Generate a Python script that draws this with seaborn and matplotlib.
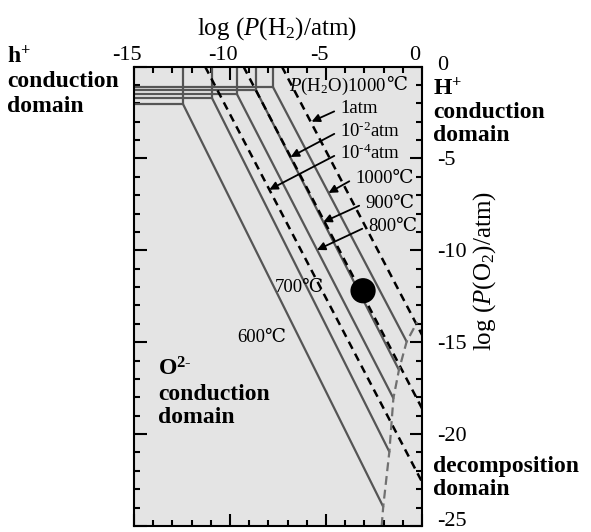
import matplotlib
matplotlib.use("Agg")
import matplotlib.pyplot as plt
from matplotlib.ticker import MultipleLocator
from matplotlib.transforms import ScaledTranslation
import seaborn as sns

# Fronteras por temperatura: punto triple y final en la zona de descomposicion
temps = ["600℃", "700℃", "800℃", "900℃", "1000℃"]
triple_x = [-12.45, -10.94, -9.64, -8.65, -7.76]
triple_y = [-2.04, -1.71, -1.50, -1.28, -1.12]
end_x = [-2.02, -1.70, -1.49, -1.20, -0.80]
end_y = [-23.95, -20.96, -18.05, -16.51, -14.97]

# Lineas de P(H2O) a 1000℃ (corte con el borde superior y con el derecho)
ph2o_labels = ["1atm", r"10$^{\text{-}2}$atm", r"10$^{\text{-}4}$atm"]
ph2o_top_x = [-7.3, -9.3, -11.3]
ph2o_right_y = [-14.6, -18.6, -22.6]

# Frontera de descomposicion
decomp_x = [-2.10, -2.02, -1.70, -1.49, -1.20, -0.80, -0.25]
decomp_y = [-25.0, -23.95, -20.96, -18.05, -16.51, -14.97, -13.9]

# Punto de medida
point_x = [-3.07]
point_y = [-12.2]

sns.set_theme(style="ticks")
plt.rcParams["font.family"] = ["Liberation Serif", "DejaVu Serif"]
plt.rcParams["mathtext.fontset"] = "custom"
plt.rcParams["mathtext.rm"] = "Liberation Serif"
plt.rcParams["mathtext.it"] = "Liberation Serif:italic"
plt.rcParams["mathtext.bf"] = "Liberation Serif:bold"
plt.rcParams["axes.unicode_minus"] = False
plt.rcParams["text.color"] = "black"
plt.rcParams["axes.labelcolor"] = "black"

W, H = 591, 532
fig = plt.figure(figsize=(W / 100, H / 100), dpi=100)
ax = fig.add_axes([134 / W, 1 - 526 / H, (422 - 134) / W, (526 - 66.5) / H])
ax.set_facecolor("#e4e4e4")

solid = dict(color="#555555", lw=1.6, estimator=None, sort=False, ax=ax)
for i in range(len(temps)):
    tx, ty = triple_x[i], triple_y[i]
    sns.lineplot(x=[-15, tx], y=[ty, ty], **solid)
    sns.lineplot(x=[tx, tx], y=[ty, 0], **solid)
    sns.lineplot(x=[tx, end_x[i]], y=[ty, end_y[i]], **solid)

for i in range(len(ph2o_labels)):
    sns.lineplot(x=[ph2o_top_x[i], 0], y=[0, ph2o_right_y[i]], color="black",
                 lw=1.8, estimator=None, sort=False, ax=ax)
    ax.lines[-1].set_dashes((3.2, 2.2))

sns.lineplot(x=decomp_x, y=decomp_y, color="#707070", lw=1.6,
             estimator=None, sort=False, ax=ax)
ax.lines[-1].set_dashes((4.0, 2.2))

sns.scatterplot(x=point_x, y=point_y, s=330, color="black", edgecolor="none",
                zorder=5, ax=ax)

ax.set_xlim(-15, 0)
ax.set_ylim(-25, 0)
ax.set_xticks([-15, -10, -5, 0])
ax.set_yticks([0, -5, -10, -15, -20, -25])
ax.xaxis.set_minor_locator(MultipleLocator(1))
ax.yaxis.set_minor_locator(MultipleLocator(1))
ax.tick_params(which="both", direction="in", top=True, bottom=True, left=True,
               right=True, labeltop=True, labelbottom=False, labelleft=False,
               labelright=True, colors="black", width=1.5, labelsize=16)
ax.tick_params(which="major", length=9)
ax.tick_params(which="minor", length=4.5)
ax.tick_params(axis="x", pad=1)
ax.tick_params(axis="y", pad=11)
for s in ax.spines.values():
    s.set_visible(True)
    s.set_color("black")
    s.set_linewidth(1.5)
shift = ScaledTranslation(-7 / 100, 0, fig.dpi_scale_trans)
for lab in ax.get_xticklabels():
    lab.set_transform(lab.get_transform() + shift)
# primera y ultima etiqueta del eje derecho un poco desplazadas hacia arriba
ylabs = ax.get_yticklabels()
ylabs[0].set_transform(ylabs[0].get_transform() +
                       ScaledTranslation(0, 3 / 100, fig.dpi_scale_trans))
ylabs[-1].set_transform(ylabs[-1].get_transform() +
                        ScaledTranslation(0, 7 / 100, fig.dpi_scale_trans))

# Etiquetas de los ejes
fig.text(277 / W, 1 - 29 / H, "log ($P$(H$_2$)/atm)", fontsize=18,
         ha="center", va="center")
fig.text(485 / W, 1 - 271 / H, "log ($P$(O$_2$)/atm)", fontsize=18,
         ha="center", va="center", rotation=90)

# Textos dentro del diagrama
fs = 13.5
t = ax.text(-6.93, -1.06, "$P$(H$_2$O)1000", fontsize=fs, va="center", ha="left")
fig.canvas.draw()
bb = t.get_window_extent()
xr = ax.transData.inverted().transform((bb.x1, bb.y0))[0]
ax.text(xr, -1.06, "℃", fontsize=fs, va="center", ha="left")

arrow = dict(arrowstyle="-|>", color="black", lw=1.3, mutation_scale=12,
             shrinkA=2, shrinkB=0, relpos=(0, 0.5))
ax.annotate(ph2o_labels[0], xy=(-5.75, -3.0), xytext=(-4.27, -2.3),
            fontsize=fs, va="center", arrowprops=arrow)
ax.annotate(ph2o_labels[1], xy=(-6.84, -4.92), xytext=(-4.27, -3.5),
            fontsize=fs, va="center", arrowprops=arrow)
ax.annotate(ph2o_labels[2], xy=(-7.95, -6.7), xytext=(-4.27, -4.7),
            fontsize=fs, va="center", arrowprops=arrow)
ax.annotate(temps[4], xy=(-4.87, -6.88), xytext=(-3.49, -6.07),
            fontsize=fs, va="center", arrowprops=arrow)
ax.annotate(temps[3], xy=(-5.14, -8.46), xytext=(-2.97, -7.43),
            fontsize=fs, va="center", arrowprops=arrow)
ax.annotate(temps[2], xy=(-5.47, -9.98), xytext=(-2.81, -8.68),
            fontsize=fs, va="center", arrowprops=arrow)
ax.text(-6.41, -12.0, temps[1], fontsize=fs, va="center", ha="center")
ax.text(-8.33, -14.72, temps[0], fontsize=fs, va="center", ha="center")


def ftext(x, y, s):
    fig.text(x / W, 1 - y / H, s, fontsize=17, fontweight="bold", va="baseline")


ftext(7, 63, r"$\mathbf{h}^{\mathbf{+}}$")
ftext(7, 87, "conduction")
ftext(7, 112, "domain")
ftext(433, 95, r"$\mathbf{H}^{\mathbf{+}}$")
ftext(433, 118, "conduction")
ftext(433, 141, "domain")
ftext(158, 376, r"$\mathbf{O}^{\mathbf{2\text{-}}}$")
ftext(158, 400, "conduction")
ftext(158, 423, "domain")
ftext(433, 472, "decomposition")
ftext(433, 495, "domain")

fig.savefig("out.png", dpi=100)
